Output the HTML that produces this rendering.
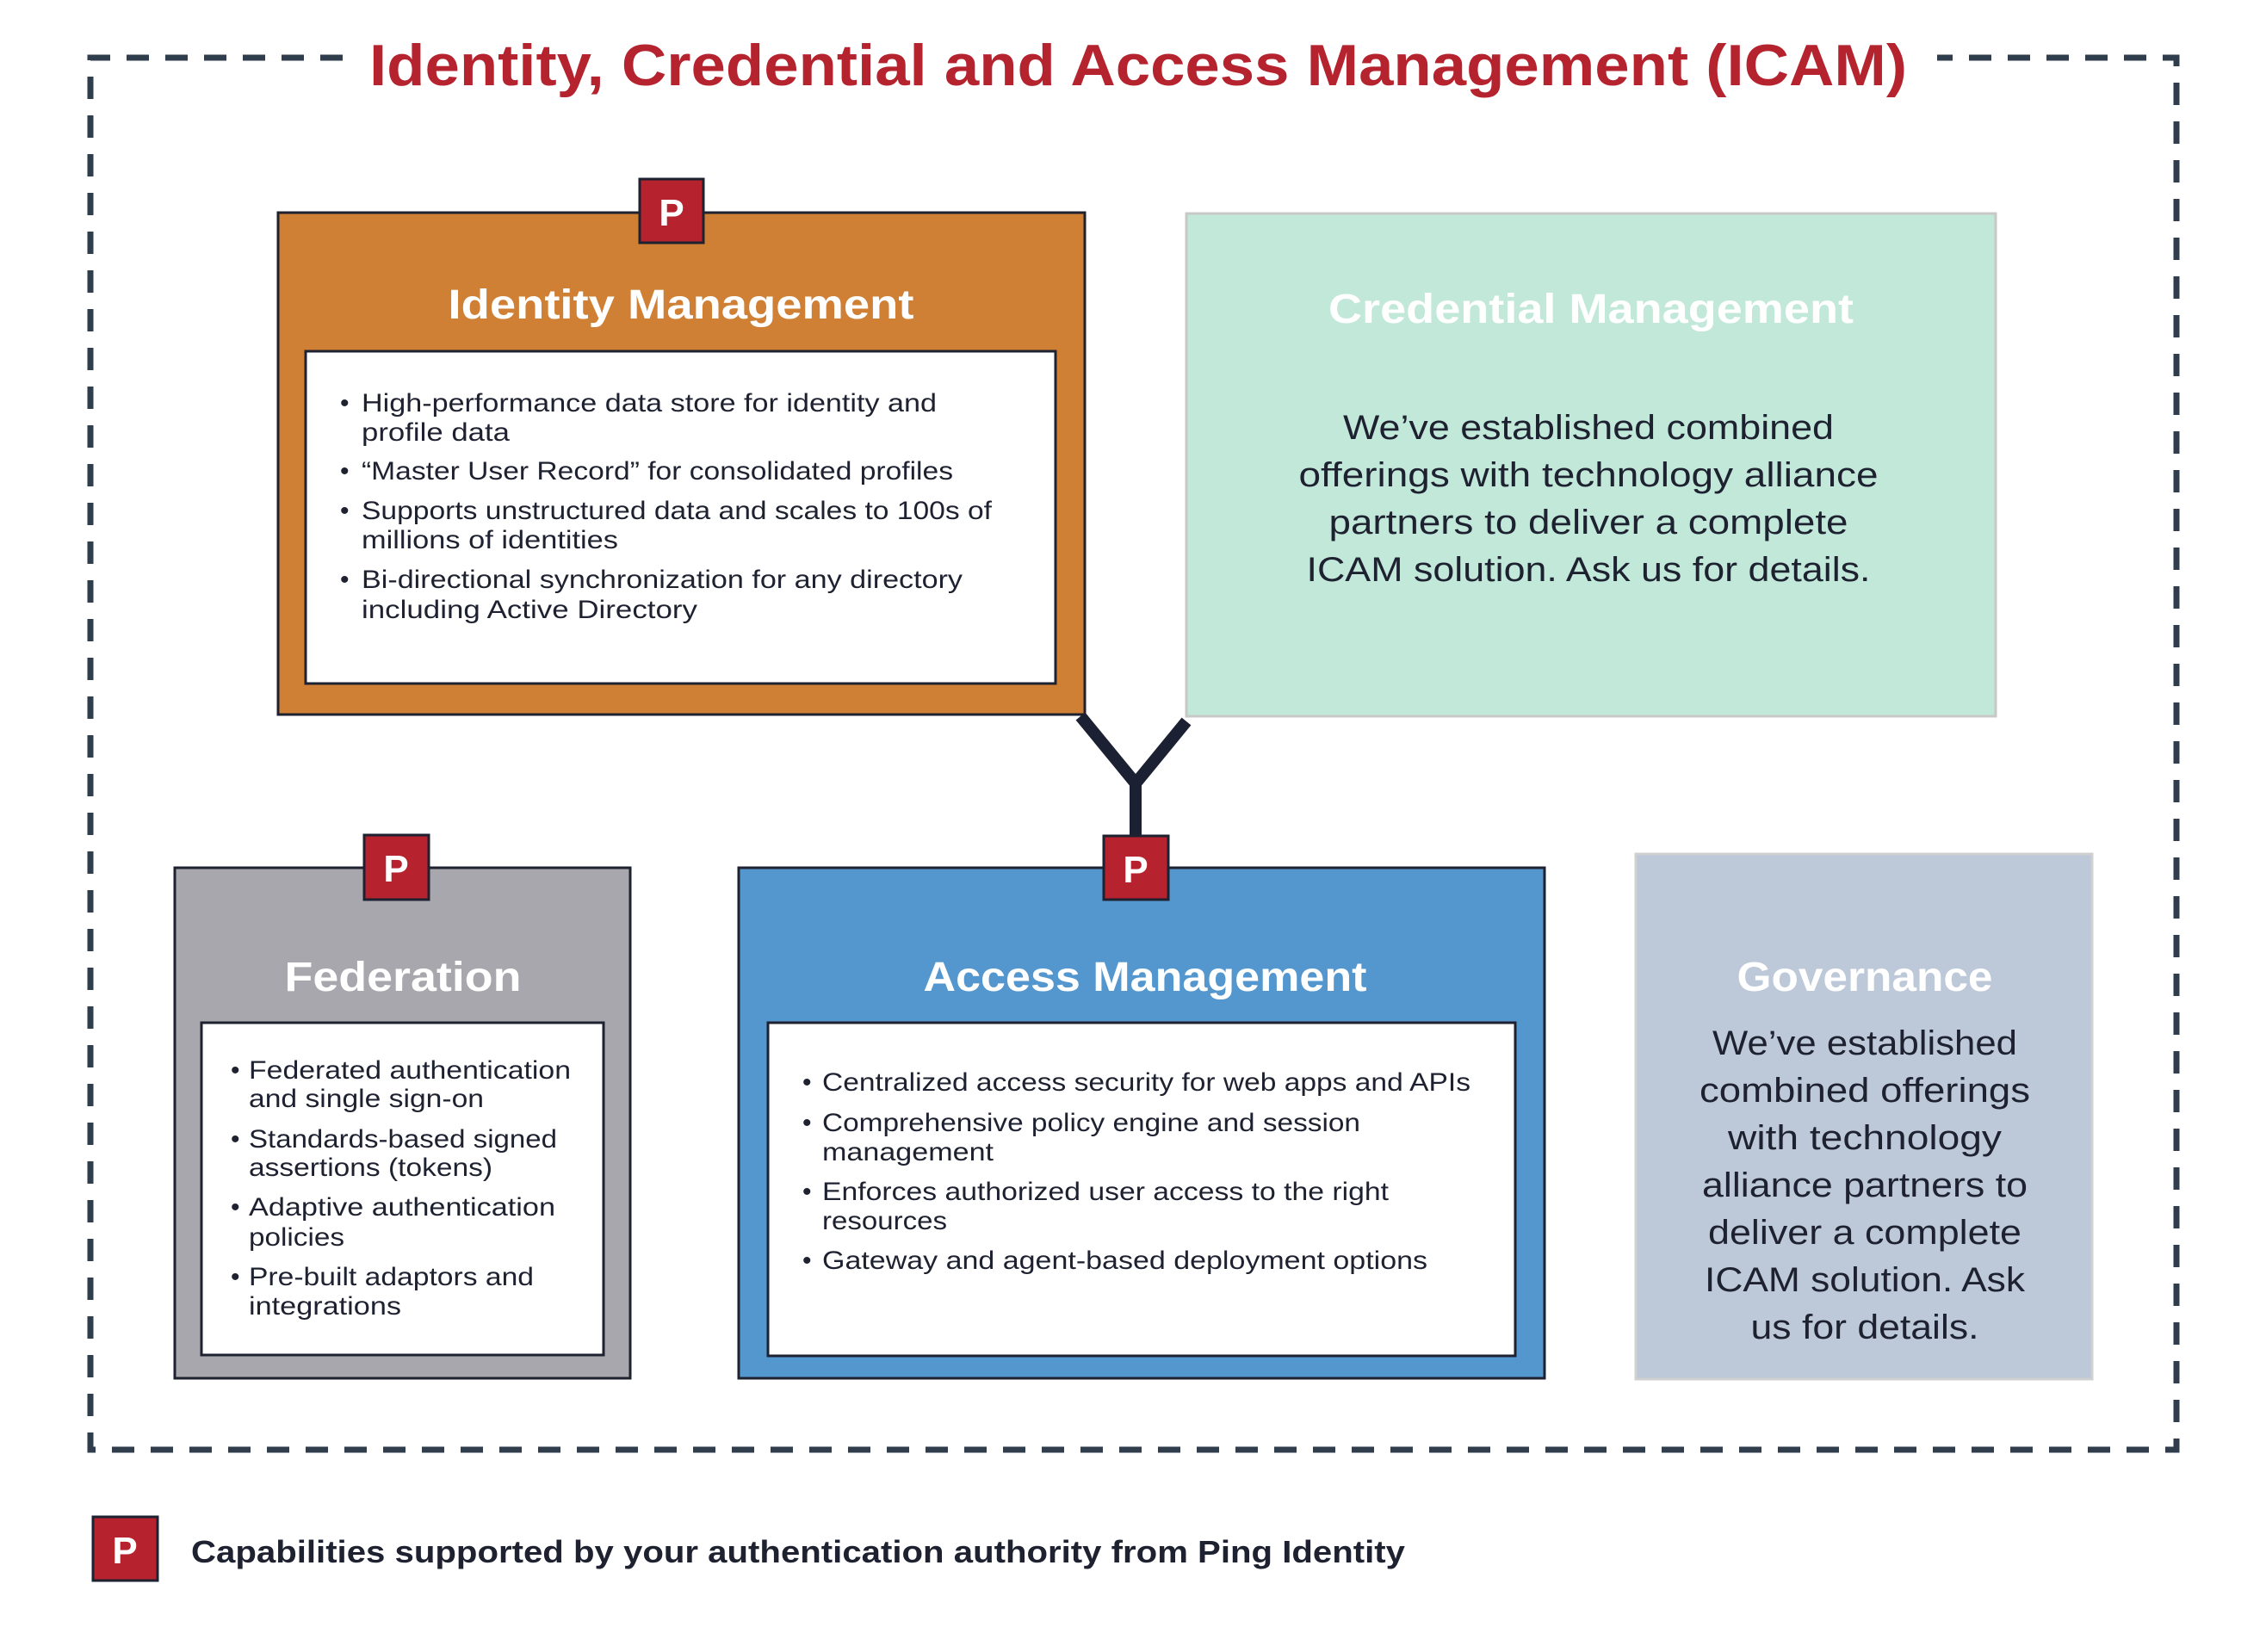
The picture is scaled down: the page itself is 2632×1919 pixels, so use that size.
<!DOCTYPE html>
<html><head><meta charset="utf-8"><style>
html,body{margin:0;padding:0;background:#fff;}
svg{display:block;}
text{font-family:"Liberation Sans",sans-serif;}
</style></head><body>
<svg width="2632" height="1919" viewBox="0 0 2632 1919" xmlns="http://www.w3.org/2000/svg">
<rect width="2632" height="1919" fill="#fff"/>
<g stroke="#2f3d4c" stroke-width="7" fill="none" stroke-dasharray="26 19">
<path d="M398 67 L105 67 L105 1684 L2528 1684 L2528 67 L2250 67"/>
</g>
<rect x="410" y="30" width="1830" height="80" fill="#fff"/>
<text x="1322" y="99" text-anchor="middle" font-size="68" font-weight="bold" fill="#b5232f" textLength="1786" lengthAdjust="spacingAndGlyphs">Identity, Credential and Access Management (ICAM)</text>

<g stroke="#1c2033" stroke-width="14" fill="none" stroke-linejoin="round">
<path d="M1255 832 L1319 910 L1378 838"/>
<path d="M1319 905 L1319 975"/>
</g>

<rect x="323" y="247" width="937" height="583" fill="#d08035" stroke="#1e2230" stroke-width="3"/>
<rect x="355" y="408" width="871" height="386" fill="#fff" stroke="#1e2230" stroke-width="3"/>
<text x="791" y="370" text-anchor="middle" font-size="48" font-weight="bold" fill="#fff" textLength="541" lengthAdjust="spacingAndGlyphs">Identity Management</text>
<g font-size="30" fill="#1e2230">
<text x="395" y="478">•</text><text x="420" y="478" textLength="668" lengthAdjust="spacingAndGlyphs">High-performance data store for identity and</text>
<text x="420" y="512" textLength="172" lengthAdjust="spacingAndGlyphs">profile data</text>
<text x="395" y="557">•</text><text x="420" y="557" textLength="687" lengthAdjust="spacingAndGlyphs">“Master User Record” for consolidated profiles</text>
<text x="395" y="603">•</text><text x="420" y="603" textLength="732" lengthAdjust="spacingAndGlyphs">Supports unstructured data and scales to 100s of</text>
<text x="420" y="637" textLength="298" lengthAdjust="spacingAndGlyphs">millions of identities</text>
<text x="395" y="683">•</text><text x="420" y="683" textLength="698" lengthAdjust="spacingAndGlyphs">Bi-directional synchronization for any directory</text>
<text x="420" y="718" textLength="390" lengthAdjust="spacingAndGlyphs">including Active Directory</text>
</g>
<rect x="743" y="208" width="74" height="74" fill="#b7222f" stroke="#1e2230" stroke-width="3"/>
<text x="780" y="262" text-anchor="middle" font-size="44" font-weight="bold" fill="#fff">P</text>

<rect x="1378" y="248" width="940" height="584" fill="#c2e8da" stroke="#c8c8c8" stroke-width="3"/>
<text x="1848" y="375" text-anchor="middle" font-size="48" font-weight="bold" fill="#fff" textLength="610" lengthAdjust="spacingAndGlyphs">Credential Management</text>
<g font-size="40" fill="#1e2230" text-anchor="middle">
<text x="1845" y="510" textLength="570" lengthAdjust="spacingAndGlyphs">We’ve established combined</text>
<text x="1845" y="565" textLength="673" lengthAdjust="spacingAndGlyphs">offerings with technology alliance</text>
<text x="1845" y="620" textLength="603" lengthAdjust="spacingAndGlyphs">partners to deliver a complete</text>
<text x="1845" y="675" textLength="655" lengthAdjust="spacingAndGlyphs">ICAM solution. Ask us for details.</text>
</g>

<rect x="203" y="1008" width="529" height="593" fill="#a7a7ad" stroke="#1e2230" stroke-width="3"/>
<rect x="234" y="1188" width="467" height="386" fill="#fff" stroke="#1e2230" stroke-width="3"/>
<text x="468" y="1151" text-anchor="middle" font-size="48" font-weight="bold" fill="#fff" textLength="275" lengthAdjust="spacingAndGlyphs">Federation</text>
<g font-size="30" fill="#1e2230">
<text x="268" y="1253">•</text><text x="289" y="1253" textLength="374" lengthAdjust="spacingAndGlyphs">Federated authentication</text>
<text x="289" y="1286" textLength="273" lengthAdjust="spacingAndGlyphs">and single sign-on</text>
<text x="268" y="1333">•</text><text x="289" y="1333" textLength="358" lengthAdjust="spacingAndGlyphs">Standards-based signed</text>
<text x="289" y="1366" textLength="283" lengthAdjust="spacingAndGlyphs">assertions (tokens)</text>
<text x="268" y="1412">•</text><text x="289" y="1412" textLength="356" lengthAdjust="spacingAndGlyphs">Adaptive authentication</text>
<text x="289" y="1447" textLength="111" lengthAdjust="spacingAndGlyphs">policies</text>
<text x="268" y="1493">•</text><text x="289" y="1493" textLength="331" lengthAdjust="spacingAndGlyphs">Pre-built adaptors and</text>
<text x="289" y="1527" textLength="177" lengthAdjust="spacingAndGlyphs">integrations</text>
</g>
<rect x="423" y="970" width="75" height="75" fill="#b7222f" stroke="#1e2230" stroke-width="3"/>
<text x="460" y="1024" text-anchor="middle" font-size="44" font-weight="bold" fill="#fff">P</text>

<rect x="858" y="1008" width="936" height="593" fill="#5497cf" stroke="#1e2230" stroke-width="3"/>
<rect x="892" y="1188" width="868" height="387" fill="#fff" stroke="#1e2230" stroke-width="3"/>
<text x="1330" y="1151" text-anchor="middle" font-size="48" font-weight="bold" fill="#fff" textLength="515" lengthAdjust="spacingAndGlyphs">Access Management</text>
<g font-size="30" fill="#1e2230">
<text x="932" y="1267">•</text><text x="955" y="1267" textLength="753" lengthAdjust="spacingAndGlyphs">Centralized access security for web apps and APIs</text>
<text x="932" y="1314">•</text><text x="955" y="1314" textLength="625" lengthAdjust="spacingAndGlyphs">Comprehensive policy engine and session</text>
<text x="955" y="1348" textLength="199" lengthAdjust="spacingAndGlyphs">management</text>
<text x="932" y="1394">•</text><text x="955" y="1394" textLength="658" lengthAdjust="spacingAndGlyphs">Enforces authorized user access to the right</text>
<text x="955" y="1428" textLength="145" lengthAdjust="spacingAndGlyphs">resources</text>
<text x="932" y="1474">•</text><text x="955" y="1474" textLength="703" lengthAdjust="spacingAndGlyphs">Gateway and agent-based deployment options</text>
</g>
<rect x="1282" y="971" width="75" height="74" fill="#b7222f" stroke="#1e2230" stroke-width="3"/>
<text x="1319" y="1025" text-anchor="middle" font-size="44" font-weight="bold" fill="#fff">P</text>

<rect x="1900" y="992" width="530" height="610" fill="#bdc9d8" stroke="#d0d0d0" stroke-width="3"/>
<text x="2166" y="1151" text-anchor="middle" font-size="48" font-weight="bold" fill="#fff" textLength="297" lengthAdjust="spacingAndGlyphs">Governance</text>
<g font-size="40" fill="#1e2230" text-anchor="middle">
<text x="2166" y="1225" textLength="354" lengthAdjust="spacingAndGlyphs">We’ve established</text>
<text x="2166" y="1280" textLength="384" lengthAdjust="spacingAndGlyphs">combined offerings</text>
<text x="2166" y="1335" textLength="318" lengthAdjust="spacingAndGlyphs">with technology</text>
<text x="2166" y="1390" textLength="378" lengthAdjust="spacingAndGlyphs">alliance partners to</text>
<text x="2166" y="1445" textLength="364" lengthAdjust="spacingAndGlyphs">deliver a complete</text>
<text x="2166" y="1500" textLength="372" lengthAdjust="spacingAndGlyphs">ICAM solution. Ask</text>
<text x="2166" y="1555" textLength="265" lengthAdjust="spacingAndGlyphs">us for details.</text>
</g>

<rect x="108" y="1762" width="75" height="74" fill="#b7222f" stroke="#1e2230" stroke-width="3"/>
<text x="145" y="1816" text-anchor="middle" font-size="44" font-weight="bold" fill="#fff">P</text>
<text x="222" y="1815" font-size="36" font-weight="bold" fill="#1e2230" textLength="1410" lengthAdjust="spacingAndGlyphs">Capabilities supported by your authentication authority from Ping Identity</text>
</svg>
</body></html>
